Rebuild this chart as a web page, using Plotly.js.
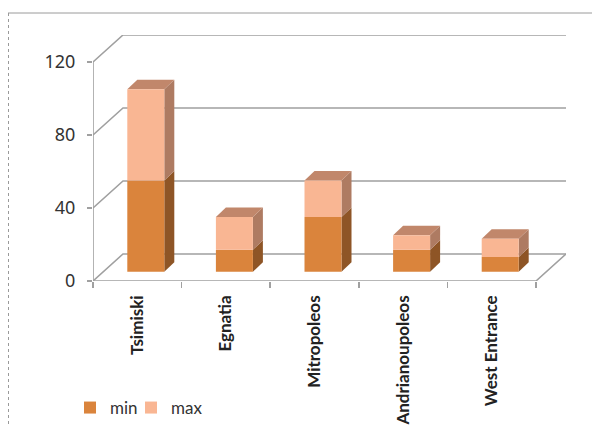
<!DOCTYPE html>
<html>
<head>
<meta charset="utf-8">
<script src="https://cdn.plot.ly/plotly-3.0.1.min.js"></script>
<style>html,body{margin:0;padding:0;background:#fff;}#chart{width:592px;height:425px;}</style>
</head>
<body>
<div id="chart"></div>
<script>
// ---- data ----
const categories = ['Tsimiski', 'Egnatia', 'Mitropoleos', 'Andrianoupoleos', 'West Entrance'];
const minValues = [50, 12, 30, 12, 8];
const maxValues = [50, 18, 20, 8, 10];
const yTickValues = [0, 40, 80, 120];
const seriesNames = ['min', 'max'];

// ---- geometry / style ----
const W = 592, H = 425;
const M = {l: 93, r: 26, t: 35, b: 144};
const plotW = W - M.l - M.r, plotH = H - M.t - M.b;
const pxPerCat = 88.6, pxPerUnit = 1.825;
const xRange = [-0.5, -0.5 + plotW / pxPerCat];
const yRange = [0, plotH / pxPerUnit];
const wallDX = 30 / pxPerCat, wallDY = 27 / pxPerUnit;      // floor depth
const barW = 37 / pxPerCat, barShift = 8.5 / pxPerCat;       // bar front face
const barBase = 9.3 / pxPerUnit;                              // bar sits back on floor
const depX = 10 / pxPerCat, depY = 9.5 / pxPerUnit;          // bar depth
const colMinFront = '#DA843C', colMaxFront = '#F9B693';
const colMinSide = '#8E5526', colMaxSide = '#AE7B62', colMaxTop = '#C1876B';
const gridCol = '#A0A0A0';

const idx = categories.map((c, i) => i);
const x0s = idx.map(i => i - barW / 2 + barShift);
const x1s = x0s.map(x => x + barW);
const maxBase = minValues.map(v => barBase + v);

const shapes = [];
yTickValues.forEach(v => {
  shapes.push({type: 'path', xref: 'x', yref: 'y', layer: 'below',
    path: `M${xRange[0]},${v} L${xRange[0] + wallDX},${v + wallDY} L${categories.length - 0.5 + wallDX},${v + wallDY}`,
    line: {color: gridCol, width: 1.6}});
});
shapes.push({type: 'path', xref: 'x', yref: 'y', layer: 'below',
  path: `M${xRange[0]},0 L${categories.length - 0.5},0 L${categories.length - 0.5 + wallDX},${wallDY}`,
  line: {color: gridCol, width: 1.6}});
shapes.push({type: 'line', xref: 'x', yref: 'y', layer: 'below',
  x0: xRange[0], x1: xRange[0], y0: 0, y1: yTickValues[yTickValues.length - 1],
  line: {color: gridCol, width: 1.6}});
idx.forEach(i => {
  const a = x0s[i], b = x1s[i];
  const y0 = barBase, y1 = barBase + minValues[i], y2 = y1 + maxValues[i];
  shapes.push({type: 'path', xref: 'x', yref: 'y', layer: 'below', line: {width: 0}, fillcolor: colMinSide,
    path: `M${b},${y0} L${b + depX},${y0 + depY} L${b + depX},${y1 + depY} L${b},${y1} Z`});
  shapes.push({type: 'path', xref: 'x', yref: 'y', layer: 'below', line: {width: 0}, fillcolor: colMaxSide,
    path: `M${b},${y1} L${b + depX},${y1 + depY} L${b + depX},${y2 + depY} L${b},${y2} Z`});
  shapes.push({type: 'path', xref: 'x', yref: 'y', layer: 'below', line: {width: 0}, fillcolor: colMaxTop,
    path: `M${a},${y2} L${b},${y2} L${b + depX},${y2 + depY} L${a + depX},${y2 + depY} Z`});
});
const px2paperX = px => (px - M.l) / plotW;
const px2paperY = py => (H - M.b - py) / plotH;
shapes.push({type: 'line', xref: 'paper', yref: 'paper', x0: px2paperX(8), x1: px2paperX(640), y0: px2paperY(13), y1: px2paperY(13), line: {color: '#9A9A9A', width: 1}});
shapes.push({type: 'line', xref: 'paper', yref: 'paper', x0: px2paperX(8.5), x1: px2paperX(8.5), y0: px2paperY(13), y1: px2paperY(460), line: {color: '#9A9A9A', width: 1, dash: 'dot'}});

const traces = [
  {type: 'bar', name: seriesNames[0], x: idx, y: minValues, base: idx.map(() => barBase), legend: 'legend',
   xaxis: 'x2', width: barW, offset: -barW / 2 + barShift, marker: {color: colMinFront, line: {width: 0}}, hoverinfo: 'none'},
  {type: 'bar', name: seriesNames[1], x: idx, y: maxValues, base: maxBase, legend: 'legend2',
   xaxis: 'x2', width: barW, offset: -barW / 2 + barShift, marker: {color: colMaxFront, line: {width: 0}}, hoverinfo: 'none'}
];

const legendFont = {family: 'Lato, sans-serif', size: 17, color: '#333'};
const legendBase = {orientation: 'h', xref: 'container', yref: 'container', xanchor: 'left', yanchor: 'middle',
  y: 1 - 408 / H, font: legendFont, itemwidth: 30, bgcolor: 'rgba(0,0,0,0)'};

const layout = {
  width: W, height: H,
  margin: M,
  paper_bgcolor: '#fff', plot_bgcolor: 'rgba(0,0,0,0)',
  barmode: 'overlay',
  showlegend: true,
  legend: Object.assign({}, legendBase, {x: 70 / W}),
  legend2: Object.assign({}, legendBase, {x: 131 / W}),
  xaxis: {type: 'linear', range: xRange, tickvals: idx.concat([categories.length]).map(i => i - 0.5),
          ticks: 'outside', ticklen: 6, tickcolor: gridCol, tickwidth: 1.6, showticklabels: false,
          showgrid: false, zeroline: false, showline: false, fixedrange: true},
  xaxis2: {type: 'linear', overlaying: 'x', anchor: 'y', side: 'bottom', range: xRange,
           tickvals: idx, ticktext: categories, tickangle: -90, ticks: '', ticklabelstandoff: 10,
           tickfont: {family: 'Lato, sans-serif', size: 17, color: '#222', weight: 'bold'},
           showgrid: false, zeroline: false, showline: false, fixedrange: true},
  yaxis: {range: yRange, tickvals: yTickValues, ticks: 'outside', ticklen: 5, tickcolor: gridCol, tickwidth: 1.6,
          ticklabelstandoff: 8,
          tickfont: {family: 'Noto Sans, sans-serif', size: 18, color: '#333'},
          showgrid: false, zeroline: false, showline: false, fixedrange: true},
  shapes: shapes
};

Plotly.newPlot('chart', traces, layout, {displayModeBar: false, staticPlot: true});
</script>
</body>
</html>
